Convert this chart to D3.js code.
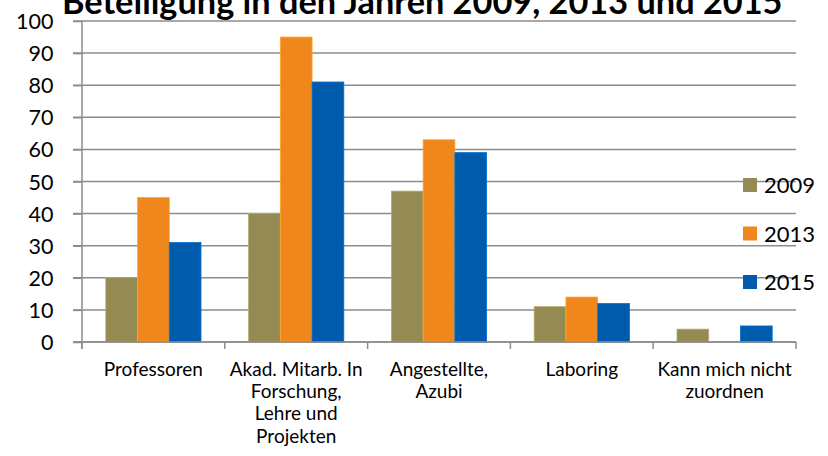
<!DOCTYPE html>
<html>
<head>
<meta charset="utf-8">
<script src="https://cdn.jsdelivr.net/npm/d3@7"></script>
<style>
  html, body { margin: 0; padding: 0; background: #fff; }
  svg { display: block; font-family: Lato, "Open Sans", sans-serif; }
</style>
</head>
<body>
<div id="chart"></div>
<script>
const categories = ['Professoren', 'Akad. Mitarb. In Forschung, Lehre und Projekten', 'Angestellte, Azubi', 'Laboring', 'Kann mich nicht zuordnen'];
const categoryLines = [
  ['Professoren'],
  ['Akad. Mitarb. In', 'Forschung,', 'Lehre und', 'Projekten'],
  ['Angestellte,', 'Azubi'],
  ['Laboring'],
  ['Kann mich nicht', 'zuordnen']
];
const years = ['2009', '2013', '2015'];
const values2009 = [20, 40, 47, 11, 4];
const values2013 = [45, 95, 63, 14, 0];
const values2015 = [31, 81, 59, 12, 5];
const yTicks = [0, 10, 20, 30, 40, 50, 60, 70, 80, 90, 100];
const colors = ['#948a54', '#f0871d', '#005bac'];
const title = 'Beteiligung in den Jahren 2009, 2013 und 2015';

const width = 828, height = 456;
const series = [values2009, values2013, values2015];

const svg = d3.select('#chart').append('svg')
  .attr('width', width)
  .attr('height', height);

const x0 = d3.scaleBand().domain(categories).range([82, 796]).padding(0);
const gap = x0.bandwidth() * 0.75 / 4.5; // excel gap width 150%
const x1 = d3.scaleBand().domain(years).range([gap, x0.bandwidth() - gap]).padding(0);
const y = d3.scaleLinear().domain([0, 100]).range([342, 21]);

// gridlines
svg.append('g')
  .selectAll('line')
  .data(yTicks)
  .join('line')
  .attr('x1', 73)
  .attr('x2', 796)
  .attr('y1', d => y(d))
  .attr('y2', d => y(d))
  .attr('stroke', '#8c8c8c')
  .attr('stroke-width', 1.5);

// y axis
const yAxis = svg.append('g')
  .attr('transform', 'translate(82,0)')
  .call(d3.axisLeft(y).tickValues(yTicks).tickSize(9).tickPadding(0));
yAxis.select('.domain').attr('stroke', '#8c8c8c').attr('stroke-width', 1.5)
  .attr('d', `M0,${y(100)}V${y(0) + 7}`);
yAxis.selectAll('.tick line').attr('stroke', '#8c8c8c').attr('stroke-width', 1.5);
yAxis.selectAll('.tick text')
  .attr('x', -28.5)
  .attr('dy', null)
  .attr('y', 7.5)
  .attr('font-family', 'Lato, sans-serif')
  .attr('font-size', 21.5)
  .attr('fill', '#000');

// bars
const groups = svg.append('g')
  .selectAll('g')
  .data(categories)
  .join('g')
  .attr('transform', d => `translate(${x0(d)},0)`);

groups.selectAll('rect')
  .data((d, i) => years.map((yr, j) => ({ year: yr, value: series[j][i], color: colors[j] })))
  .join('rect')
  .attr('x', d => x1(d.year))
  .attr('width', x1.bandwidth())
  .attr('y', d => y(d.value))
  .attr('height', d => y(0) - y(d.value))
  .attr('fill', d => d.color)
  .attr('stroke', d => d3.color(d.color).brighter(0.6))
  .attr('stroke-width', d => d.value > 0 ? 0.8 : 0);

// x axis
const xAxis = svg.append('g')
  .attr('transform', `translate(0,${y(0)})`);
xAxis.append('line')
  .attr('x1', 73).attr('x2', 796)
  .attr('stroke', '#8c8c8c').attr('stroke-width', 1.5);
xAxis.selectAll('.ctick')
  .data(categories.map(c => x0(c)).concat([x0.range()[1]]))
  .join('line')
  .attr('class', 'ctick')
  .attr('x1', d => d).attr('x2', d => d)
  .attr('y1', 0).attr('y2', 7)
  .attr('stroke', '#8c8c8c').attr('stroke-width', 1.5);

const labels = svg.append('g')
  .selectAll('text')
  .data(categories)
  .join('text')
  .attr('text-anchor', 'middle')
  .attr('font-size', 19)
  .attr('fill', '#000')
  .attr('transform', d => `translate(${x0(d) + x0.bandwidth() / 2},375.5)`);
labels.selectAll('tspan')
  .data((d, i) => categoryLines[i])
  .join('tspan')
  .attr('x', 0)
  .attr('y', (d, i) => i * 22.4)
  .text(d => d);

// legend
const legend = svg.append('g')
  .selectAll('g')
  .data(years)
  .join('g')
  .attr('transform', (d, i) => `translate(743,${178 + i * 48.5})`);
legend.append('rect')
  .attr('width', 14).attr('height', 14)
  .attr('fill', (d, i) => colors[i]);
legend.append('text')
  .attr('x', 21).attr('y', 15)
  .attr('font-size', 22)
  .attr('fill', '#000')
  .text(d => d);

// title (cut off at the top as in the original)
const t = svg.append('text')
  .attr('x', 62)
  .attr('y', 13.5)
  .attr('font-weight', 'bold')
  .attr('font-size', 34)
  .attr('fill', '#000')
  .text(title);
const len = t.node().getComputedTextLength();
t.attr('font-size', 34 * 721 / len);
</script>
</body>
</html>
